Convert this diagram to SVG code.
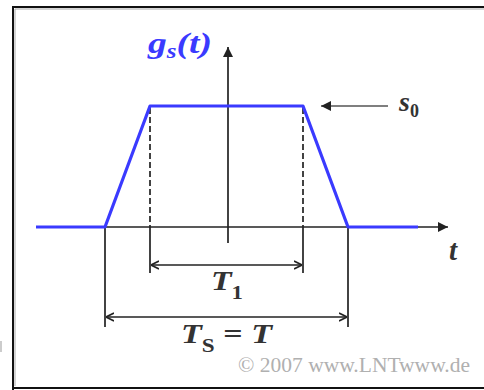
<svg xmlns="http://www.w3.org/2000/svg" width="484" height="390" viewBox="0 0 484 390">
<style>
.ax{stroke:#222;stroke-width:1.7;fill:none}
.dim{stroke:#222;stroke-width:1.7;fill:none}
.dash{stroke:#222;stroke-width:1.7;stroke-dasharray:6,3;fill:none}
.sig{stroke:#3a3aff;stroke-width:3.2;fill:none;stroke-linejoin:round}
.lbl{font-family:"Liberation Serif","DejaVu Serif",serif;font-style:italic;font-weight:bold;fill:#333}
.cp{font-family:"Liberation Serif","DejaVu Serif",serif;fill:#b0b0b0;font-size:20px}
</style>
<defs>
<marker id="ah" viewBox="0 0 10 10" refX="10" refY="5" markerWidth="10" markerHeight="10" markerUnits="userSpaceOnUse" orient="auto-start-reverse">
<path d="M0,0 L10,5 L0,10 Z" fill="#222"/>
</marker>
<marker id="oh" viewBox="0 0 8 10" refX="8" refY="5" markerWidth="8" markerHeight="10" markerUnits="userSpaceOnUse" orient="auto-start-reverse">
<path d="M0,1 L8,5 L0,9" fill="none" stroke="#222" stroke-width="1.6"/>
</marker>
</defs>
<rect x="0" y="0" width="484" height="390" fill="#fff"/>
<g id="frame">
<path d="M13,390 V7 H484" fill="none" stroke="#111" stroke-width="2"/>
<path d="M13,388 H484" fill="none" stroke="#111" stroke-width="2"/>
<path d="M15,386 V9 H484" fill="none" stroke="#aaa" stroke-width="1"/>
<line x1="1" y1="341" x2="1" y2="352" stroke="#999" stroke-width="1"/>
</g>
<g id="connectors">
<line class="ax" x1="36" y1="227" x2="448" y2="227" marker-end="url(#ah)"/>
<line class="ax" x1="228" y1="243" x2="228" y2="47" marker-end="url(#ah)"/>
<line class="dash" x1="150" y1="108" x2="150" y2="227"/>
<line class="dash" x1="303" y1="108" x2="303" y2="227"/>
<line class="dim" x1="150" y1="227" x2="150" y2="273"/>
<line class="dim" x1="303" y1="227" x2="303" y2="273"/>
<line class="dim" x1="105" y1="227" x2="105" y2="327"/>
<line class="dim" x1="348" y1="227" x2="348" y2="327"/>
<line class="dim" x1="151" y1="265" x2="302" y2="265" marker-start="url(#oh)" marker-end="url(#oh)"/>
<line class="dim" x1="106" y1="317" x2="347" y2="317" marker-start="url(#oh)" marker-end="url(#oh)"/>
<line x1="388" y1="106" x2="321" y2="106" stroke="#555" stroke-width="1.6" marker-end="url(#ah)"/>
</g>
<g id="signal">
<polyline class="sig" points="36,227 105,227 150,106 303,106 348,227 418,227"/>
</g>
<g id="label-g">
<text x="148" y="53" font-family="'Liberation Serif',serif" font-style="italic" font-weight="bold" font-size="30" fill="#3a3aff" textLength="64" lengthAdjust="spacingAndGlyphs">g<tspan font-size="20" dy="5">s</tspan><tspan dy="-5">(t)</tspan></text>
</g>
<g id="label-s0">
<text class="lbl" x="399" y="111" font-size="28">s<tspan font-size="18" font-style="normal" dy="6">0</tspan></text>
</g>
<g id="label-t">
<text class="lbl" x="449" y="260" font-size="29">t</text>
</g>
<g id="label-T1">
<text class="lbl" x="211" y="290" font-size="28" textLength="32" lengthAdjust="spacingAndGlyphs">T<tspan font-size="19" font-style="normal" dy="9">1</tspan></text>
</g>
<g id="label-TS">
<text class="lbl" x="181" y="343" font-size="28" textLength="91" lengthAdjust="spacingAndGlyphs">T<tspan font-size="19" font-style="normal" dy="9">S</tspan><tspan font-style="normal" dy="-9"> = </tspan>T</text>
</g>
<g id="copyright">
<text class="cp" x="238" y="372" textLength="232" lengthAdjust="spacingAndGlyphs">© 2007 www.LNTwww.de</text>
</g>
</svg>
